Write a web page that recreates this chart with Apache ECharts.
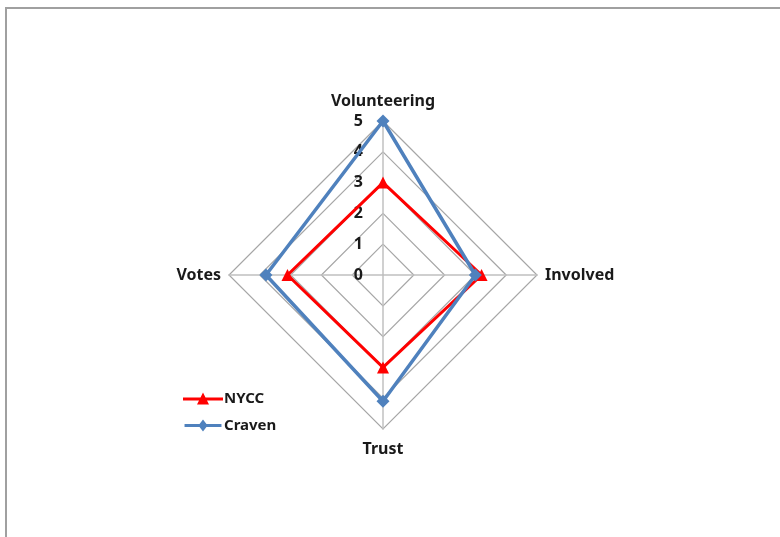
<!DOCTYPE html>
<html><head><meta charset="utf-8">
<script src="https://cdn.jsdelivr.net/npm/echarts@6/dist/echarts.min.js"></script>
<style>html,body{margin:0;padding:0;background:#fff}#c{width:780px;height:537px}</style>
</head><body><div id="c"></div>
<script>
// Indicators in ECharts order (counter-clockwise from top)
const indicators = ['Volunteering', 'Votes', 'Trust', 'Involved'];
const maxValue = 5;
const nyccValues = [3.0, 3.1, 3.0, 3.2];
const cravenValues = [5.0, 3.8, 4.1, 3.0];
const seriesNames = ['NYCC', 'Craven'];

const font = 'Noto Sans';
const chart = echarts.init(document.getElementById('c'));
chart.setOption({
  animation: false,
  backgroundColor: '#fff',
  graphic: [{
    type: 'rect', shape: { x: 6, y: 8, width: 800, height: 560 },
    style: { fill: 'none', stroke: '#a0a0a0', lineWidth: 2 }, silent: true
  }],
  legend: {
    orient: 'vertical', left: 178, top: 386, itemWidth: 40, itemHeight: 12, itemGap: 12,
    textStyle: { fontFamily: font, fontWeight: 'bold', fontSize: 15, color: '#1a1a1a', padding: [0, 0, 0, -4] },
    data: [
      { name: seriesNames[0], icon: 'path://M0,5 L40,5 L40,8 L0,8 Z M20,0 L26,12 L14,12 Z' },
      { name: seriesNames[1], icon: 'path://M0,5 L40,5 L40,8 L0,8 Z M20,0 L25,6.5 L20,13 L15,6.5 Z' }
    ]
  },
  radar: {
    center: [383, 275], radius: 154, startAngle: 90, splitNumber: 5, shape: 'polygon',
    indicator: indicators.map((n, i) => ({
      name: n, min: 0, max: maxValue,
      axisLabel: { show: i === 0 }
    })),
    axisName: { color: '#1a1a1a', fontFamily: font, fontWeight: 'bold', fontSize: 16, padding: [4, 0, 4, 0] },
    nameGap: 8,
    axisLabel: { show: false, fontFamily: font, fontWeight: 'bold', fontSize: 16, color: '#1a1a1a', margin: 20 },
    axisLine: { lineStyle: { color: '#c0c0c0', width: 1.5 } },
    splitLine: { lineStyle: { color: '#a6a6a6', width: 1.2 } },
    splitArea: { show: false },
    axisTick: { show: false }
  },
  series: [{
    type: 'radar',
    data: [
      { name: seriesNames[0], value: nyccValues, symbol: 'triangle', symbolSize: 12,
        lineStyle: { color: '#ff0000', width: 3 }, itemStyle: { color: '#ff0000' } },
      { name: seriesNames[1], value: cravenValues, symbol: 'diamond', symbolSize: 13,
        lineStyle: { color: '#4f81bd', width: 3.5 }, itemStyle: { color: '#4f81bd' } }
    ]
  }]
});
</script></body></html>
